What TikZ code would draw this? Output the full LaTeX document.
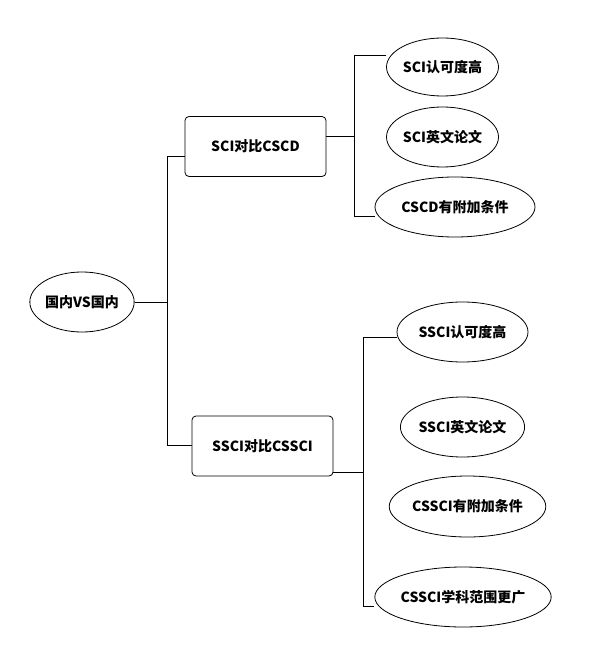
\documentclass[tikz,border=0pt]{standalone}
\usepackage{fontspec}
\setmainfont{Noto Sans CJK SC}
\usepackage{tikz}
\usetikzlibrary{shapes,shapes.geometric,positioning,calc}
\tikzset{
  mmoval/.style={draw=black, line width=0.8pt, fill=white, ellipse, inner sep=0pt,
    font=\fontsize{14}{16}\selectfont\bfseries, align=center},
  mmbox/.style={draw=black, line width=0.8pt, fill=white, rectangle, rounded corners=4pt,
    inner sep=0pt, minimum width=141pt, minimum height=60pt,
    font=\fontsize{14}{16}\selectfont\bfseries, align=center},
  mmline/.style={draw=black, line width=1pt},
}

\begin{document}
\begin{tikzpicture}[x=1pt, y=-1pt]
\useasboundingbox (0,0) rectangle (595,660);

%% ── Root ────────────────────────────────────────────────────────────────
\node[mmoval, minimum width=101pt, minimum height=60pt] (n_root) at (82,302) {国内VS国内};

%% ── First branch: SCI vs CSCD ───────────────────────────────────────────
\node[mmbox] (n_sci)  at (255.5,146.5) {SCI对比CSCD};

\node[mmoval, minimum width=101pt, minimum height=58pt] (n_sci_rec)  at (442.5,67)  {SCI认可度高};
\node[mmoval, minimum width=101pt, minimum height=60pt] (n_sci_eng)  at (442.5,137) {SCI英文论文};
\node[mmoval, minimum width=160pt, minimum height=60pt] (n_cscd_add) at (455,207)   {CSCD有附加条件};

%% ── Second branch: SSCI vs CSSCI ────────────────────────────────────────
\node[mmbox] (n_ssci) at (262.5,446) {SSCI对比CSSCI};

\node[mmoval, minimum width=131pt, minimum height=60pt] (n_ssci_rec)  at (462.5,332) {SSCI认可度高};
\node[mmoval, minimum width=121pt, minimum height=60pt] (n_ssci_eng)  at (462.5,427) {SSCI英文论文};
\node[mmoval, minimum width=151pt, minimum height=61pt] (n_cssci_add) at (467.5,506.5) {CSSCI有附加条件};
\node[mmoval, minimum width=160pt, minimum height=60pt] (n_cssci_wide) at (463,597) {CSSCI学科范围更广};

%% ── Junction points ─────────────────────────────────────────────────────
\coordinate (j_root)    at (167,302);
\coordinate (j_roottop) at (167,157);
\coordinate (j_rootbot) at (167,445);
\coordinate (j_sci)     at (354,137);
\coordinate (j_scitop)  at (354,56);
\coordinate (j_scibot)  at (354,216);
\coordinate (j_ssci)    at (363,472);
\coordinate (j_sscitop) at (363,337);
\coordinate (j_sscibot) at (363,606);

%% ── Connectors ──────────────────────────────────────────────────────────
\draw[mmline] (n_root.east) -- (j_root);
\draw[mmline] (j_roottop) -- (j_rootbot);
\draw[mmline] (j_roottop) -- (j_roottop -| n_sci.west);
\draw[mmline] (j_rootbot) -- (j_rootbot -| n_ssci.west);

\draw[mmline] (j_sci -| n_sci.east) -- (j_sci);
\draw[mmline] (j_scitop) -- (j_scibot);
\draw[mmline] (j_scitop) -- (j_scitop -| n_sci_rec.west);
\draw[mmline] (j_scibot) -- (j_scibot -| n_cscd_add.west);

\draw[mmline] (j_ssci -| n_ssci.east) -- (j_ssci);
\draw[mmline] (j_sscitop) -- (j_sscibot);
\draw[mmline] (j_sscitop) -- (j_sscitop -| n_ssci_rec.west);
\draw[mmline] (j_sscibot) -- (j_sscibot -| n_cssci_wide.west);

\end{tikzpicture}
\end{document}
